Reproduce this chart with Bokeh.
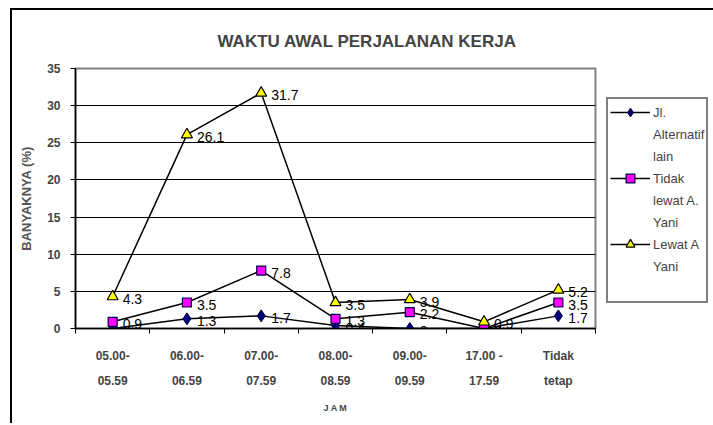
from bokeh.plotting import figure
from bokeh.models import (Range1d, FixedTicker, Legend, LegendItem, Title,
                          ColumnDataSource)
from bokeh.embed import file_html
from bokeh.resources import INLINE
from bokeh.core.properties import value

categories = ["05.00-\n05.59", "06.00-\n06.59", "07.00-\n07.59", "08.00-\n08.59",
              "09.00-\n09.59", "17.00 -\n17.59", "Tidak\ntetap"]
jl_alternatif = [0, 1.3, 1.7, 0.4, 0, 0, 1.7]
tidak_lewat = [0.9, 3.5, 7.8, 1.3, 2.2, 0, 3.5]
lewat_ayani = [4.3, 26.1, 31.7, 3.5, 3.9, 0.9, 5.2]
y_ticks = [0, 5, 10, 15, 20, 25, 30, 35]

FONT = "Liberation Sans"
xs = list(range(1, len(categories) + 1))

p = figure(output_backend="svg", toolbar_location=None,
           frame_width=520, frame_height=260,
           min_border_left=63, min_border_top=58,
           min_border_right=118, min_border_bottom=95,
           x_range=Range1d(0.5, 7.5), y_range=Range1d(0, 35))
p.background_fill_color = "white"
p.border_fill_color = "white"
p.outline_line_color = "#808080"
p.outline_line_width = 2
p.styles = {"border-top": "2px solid black", "border-left": "2px solid black",
            "margin-left": "10px", "margin-top": "8px"}

# axes
p.xaxis.ticker = FixedTicker(ticks=xs, minor_ticks=[x + 0.5 for x in range(0, 8)])
p.xaxis.major_label_overrides = {x: c for x, c in zip(xs, categories)}
p.xaxis.major_tick_line_color = None
p.xaxis.minor_tick_line_color = "black"
p.xaxis.minor_tick_in = 0
p.xaxis.minor_tick_out = 5
p.xaxis.axis_line_color = "black"
p.xaxis.axis_line_width = 1.5
p.xaxis.major_label_text_font = FONT
p.xaxis.major_label_text_font_style = "bold"
p.xaxis.major_label_text_font_size = "12px"
p.xaxis.major_label_text_line_height = 1.8
p.xaxis.major_label_standoff = 14
p.xaxis.axis_label = "J A M"
p.xaxis.axis_label_text_font = FONT
p.xaxis.axis_label_text_font_style = "bold"
p.xaxis.axis_label_text_font_size = "9px"
p.xaxis.axis_label_standoff = 12

p.yaxis.ticker = FixedTicker(ticks=y_ticks)
p.yaxis.minor_tick_line_color = None
p.yaxis.major_tick_in = 0
p.yaxis.major_tick_out = 5
p.yaxis.axis_line_color = "black"
p.yaxis.axis_line_width = 1.5
p.yaxis.major_label_text_font = FONT
p.yaxis.major_label_text_font_style = "bold"
p.yaxis.major_label_text_font_size = "12px"
p.yaxis.major_label_standoff = 10
p.yaxis.axis_label = "BANYAKNYA (%)"
p.yaxis.axis_label_text_font = FONT
p.yaxis.axis_label_text_font_style = "bold"
p.yaxis.axis_label_text_font_size = "13px"
p.yaxis.axis_label_text_color = "#555555"
p.yaxis.axis_label_standoff = 10

p.xgrid.grid_line_color = None
p.ygrid.ticker = FixedTicker(ticks=y_ticks[1:-1])
p.ygrid.grid_line_color = "black"
p.ygrid.grid_line_width = 1

# series
l1 = p.line(xs, jl_alternatif, line_color="black", line_width=1.5)
m1 = p.scatter(xs, jl_alternatif, marker="diamond", size=12,
               fill_color="#000080", line_color="#000033")
l2 = p.line(xs, tidak_lewat, line_color="black", line_width=1.5)
m2 = p.scatter(xs, tidak_lewat, marker="square", size=9,
               fill_color="#FF00FF", line_color="#000040", line_width=1.2)
l3 = p.line(xs, lewat_ayani, line_color="black", line_width=1.5)
m3 = p.scatter(xs, lewat_ayani, marker="triangle", size=11,
               fill_color="#FFFF00", line_color="black", line_width=1.2)

# data labels
for vals in (jl_alternatif, tidak_lewat, lewat_ayani):
    src = ColumnDataSource(dict(x=xs, y=vals, t=[f"{v:g}" for v in vals]))
    p.text(x="x", y="y", text="t", source=src, x_offset=10, y_offset=2,
           text_font=value(FONT), text_font_size="14px", text_color="black",
           text_baseline="middle", text_align="left")

# legend (one item per line of text)
blank = p.line([1], [1], line_alpha=0)
items = [
    LegendItem(label="Jl.", renderers=[l1, m1]),
    LegendItem(label="Alternatif", renderers=[blank]),
    LegendItem(label="lain", renderers=[blank]),
    LegendItem(label="Tidak", renderers=[l2, m2]),
    LegendItem(label="lewat A.", renderers=[blank]),
    LegendItem(label="Yani", renderers=[blank]),
    LegendItem(label="Lewat A", renderers=[l3, m3]),
    LegendItem(label="Yani ", renderers=[blank]),
    LegendItem(label=" ", renderers=[blank]),
]
legend = Legend(items=items, location=(11, 25), orientation="vertical",
                label_text_font=FONT, label_text_font_size="13px",
                label_height=22, glyph_height=22, glyph_width=40,
                spacing=0, padding=2, margin=0, label_standoff=3,
                border_line_color="black", border_line_width=2,
                background_fill_color="white", background_fill_alpha=1)
p.add_layout(legend, "right")

# title
p.add_layout(Title(text="WAKTU AWAL PERJALANAN KERJA", align="left", offset=142,
                   standoff=36, text_font=FONT, text_font_style="bold",
                   text_font_size="17px", text_line_height=0.6), "above")

open("out.html", "w").write(file_html(p, INLINE))
